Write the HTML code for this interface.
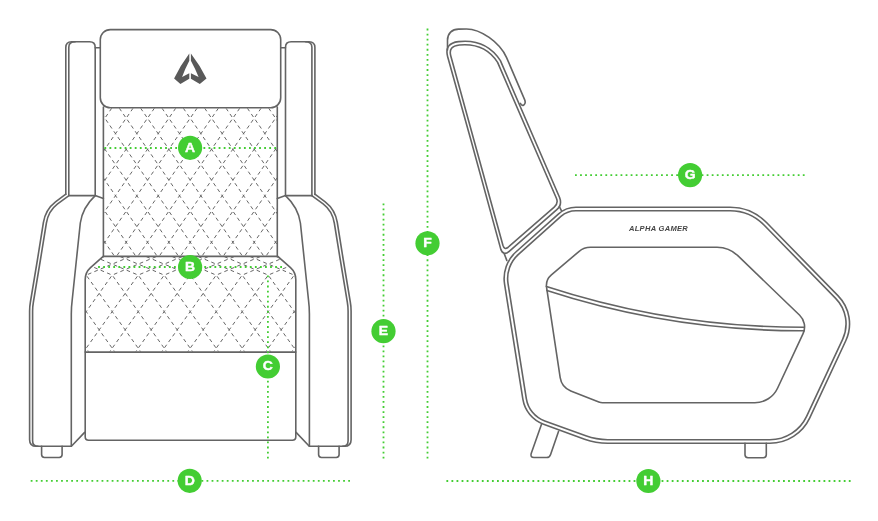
<!DOCTYPE html>
<html lang="en">
<head>
<meta charset="utf-8">
<title>Alpha Gamer sofa dimensions</title>
<style>
html,body{margin:0;padding:0;background:#fff;}
body{width:878px;height:521px;overflow:hidden;font-family:"Liberation Sans",sans-serif;}
svg{display:block;}
.ln{fill:none;stroke:#646464;stroke-width:1.6;stroke-linecap:round;stroke-linejoin:round;}
.q{fill:none;stroke:#5e5e5e;stroke-width:0.95;stroke-dasharray:3.7 3.3;}
.dot{fill:none;stroke:#43cd33;stroke-width:1.8;stroke-dasharray:1.8 3.26;}
.bd text{font-family:"Liberation Sans",sans-serif;font-weight:700;font-size:13.2px;fill:#fff;stroke:#fff;stroke-width:0.4;stroke-linejoin:round;}
.brand{font-family:"Liberation Sans",sans-serif;font-style:italic;font-weight:700;font-size:6.3px;fill:#444;letter-spacing:0.25px;}
</style>
</head>
<body>
<svg width="878" height="521" viewBox="0 0 878 521">
<defs>
<clipPath id="cb"><rect x="103.9" y="108.3" width="173.2" height="147.5"/></clipPath>
<clipPath id="cs"><path d="M103.2,257 L90.8,268 Q85.8,272.6 85.8,279.5 L85.8,351.6 L295.2,351.6 L295.2,279.5 Q295.2,272.6 290.2,268 L277.8,257 Z"/></clipPath>
</defs>
<rect width="878" height="521" fill="#fff"/>

<!-- ===== FRONT VIEW ===== -->
<g class="q" clip-path="url(#cb)">
<line x1="-8.74" y1="108.2" x2="97.13" y2="262.0"/>
<line x1="5.02" y1="108.2" x2="-100.85" y2="262.0"/>
<line x1="12.60" y1="108.2" x2="118.47" y2="262.0"/>
<line x1="26.36" y1="108.2" x2="-79.51" y2="262.0"/>
<line x1="33.94" y1="108.2" x2="139.81" y2="262.0"/>
<line x1="47.70" y1="108.2" x2="-58.17" y2="262.0"/>
<line x1="55.28" y1="108.2" x2="161.15" y2="262.0"/>
<line x1="69.04" y1="108.2" x2="-36.83" y2="262.0"/>
<line x1="76.62" y1="108.2" x2="182.49" y2="262.0"/>
<line x1="90.38" y1="108.2" x2="-15.49" y2="262.0"/>
<line x1="97.96" y1="108.2" x2="203.83" y2="262.0"/>
<line x1="111.72" y1="108.2" x2="5.85" y2="262.0"/>
<line x1="119.30" y1="108.2" x2="225.17" y2="262.0"/>
<line x1="133.06" y1="108.2" x2="27.19" y2="262.0"/>
<line x1="140.64" y1="108.2" x2="246.51" y2="262.0"/>
<line x1="154.40" y1="108.2" x2="48.53" y2="262.0"/>
<line x1="161.98" y1="108.2" x2="267.85" y2="262.0"/>
<line x1="175.74" y1="108.2" x2="69.87" y2="262.0"/>
<line x1="183.32" y1="108.2" x2="289.19" y2="262.0"/>
<line x1="197.08" y1="108.2" x2="91.21" y2="262.0"/>
<line x1="204.66" y1="108.2" x2="310.53" y2="262.0"/>
<line x1="218.42" y1="108.2" x2="112.55" y2="262.0"/>
<line x1="226.00" y1="108.2" x2="331.87" y2="262.0"/>
<line x1="239.76" y1="108.2" x2="133.89" y2="262.0"/>
<line x1="247.34" y1="108.2" x2="353.21" y2="262.0"/>
<line x1="261.10" y1="108.2" x2="155.23" y2="262.0"/>
<line x1="268.68" y1="108.2" x2="374.55" y2="262.0"/>
<line x1="282.44" y1="108.2" x2="176.57" y2="262.0"/>
<line x1="290.02" y1="108.2" x2="395.89" y2="262.0"/>
<line x1="303.78" y1="108.2" x2="197.91" y2="262.0"/>
<line x1="311.36" y1="108.2" x2="417.23" y2="262.0"/>
<line x1="325.12" y1="108.2" x2="219.25" y2="262.0"/>
<line x1="332.70" y1="108.2" x2="438.57" y2="262.0"/>
<line x1="346.46" y1="108.2" x2="240.59" y2="262.0"/>
<line x1="354.04" y1="108.2" x2="459.91" y2="262.0"/>
<line x1="367.80" y1="108.2" x2="261.93" y2="262.0"/>
<line x1="375.38" y1="108.2" x2="481.25" y2="262.0"/>
<line x1="389.14" y1="108.2" x2="283.27" y2="262.0"/>
</g>
<g class="q" clip-path="url(#cs)" stroke-dashoffset="6.25">
<polyline points="-88.34,256.40 -82.80,258.70 -69.80,264.10 -56.80,269.60 -43.80,275.10 -30.80,293.35 -17.80,311.60 -4.80,329.90 8.20,348.20 21.20,366.50"/>
<polyline points="52.74,256.40 47.20,258.70 34.20,264.10 21.20,269.60 8.20,275.10 -4.80,293.35 -17.80,311.60 -30.80,329.90 -43.80,348.20 -56.80,366.50"/>
<polyline points="-62.34,256.40 -56.80,258.70 -43.80,264.10 -30.80,269.60 -17.80,275.10 -4.80,293.35 8.20,311.60 21.20,329.90 34.20,348.20 47.20,366.50"/>
<polyline points="78.74,256.40 73.20,258.70 60.20,264.10 47.20,269.60 34.20,275.10 21.20,293.35 8.20,311.60 -4.80,329.90 -17.80,348.20 -30.80,366.50"/>
<polyline points="-36.34,256.40 -30.80,258.70 -17.80,264.10 -4.80,269.60 8.20,275.10 21.20,293.35 34.20,311.60 47.20,329.90 60.20,348.20 73.20,366.50"/>
<polyline points="104.74,256.40 99.20,258.70 86.20,264.10 73.20,269.60 60.20,275.10 47.20,293.35 34.20,311.60 21.20,329.90 8.20,348.20 -4.80,366.50"/>
<polyline points="-10.34,256.40 -4.80,258.70 8.20,264.10 21.20,269.60 34.20,275.10 47.20,293.35 60.20,311.60 73.20,329.90 86.20,348.20 99.20,366.50"/>
<polyline points="130.74,256.40 125.20,258.70 112.20,264.10 99.20,269.60 86.20,275.10 73.20,293.35 60.20,311.60 47.20,329.90 34.20,348.20 21.20,366.50"/>
<polyline points="15.66,256.40 21.20,258.70 34.20,264.10 47.20,269.60 60.20,275.10 73.20,293.35 86.20,311.60 99.20,329.90 112.20,348.20 125.20,366.50"/>
<polyline points="156.74,256.40 151.20,258.70 138.20,264.10 125.20,269.60 112.20,275.10 99.20,293.35 86.20,311.60 73.20,329.90 60.20,348.20 47.20,366.50"/>
<polyline points="41.66,256.40 47.20,258.70 60.20,264.10 73.20,269.60 86.20,275.10 99.20,293.35 112.20,311.60 125.20,329.90 138.20,348.20 151.20,366.50"/>
<polyline points="182.74,256.40 177.20,258.70 164.20,264.10 151.20,269.60 138.20,275.10 125.20,293.35 112.20,311.60 99.20,329.90 86.20,348.20 73.20,366.50"/>
<polyline points="67.66,256.40 73.20,258.70 86.20,264.10 99.20,269.60 112.20,275.10 125.20,293.35 138.20,311.60 151.20,329.90 164.20,348.20 177.20,366.50"/>
<polyline points="208.74,256.40 203.20,258.70 190.20,264.10 177.20,269.60 164.20,275.10 151.20,293.35 138.20,311.60 125.20,329.90 112.20,348.20 99.20,366.50"/>
<polyline points="93.66,256.40 99.20,258.70 112.20,264.10 125.20,269.60 138.20,275.10 151.20,293.35 164.20,311.60 177.20,329.90 190.20,348.20 203.20,366.50"/>
<polyline points="234.74,256.40 229.20,258.70 216.20,264.10 203.20,269.60 190.20,275.10 177.20,293.35 164.20,311.60 151.20,329.90 138.20,348.20 125.20,366.50"/>
<polyline points="119.66,256.40 125.20,258.70 138.20,264.10 151.20,269.60 164.20,275.10 177.20,293.35 190.20,311.60 203.20,329.90 216.20,348.20 229.20,366.50"/>
<polyline points="260.74,256.40 255.20,258.70 242.20,264.10 229.20,269.60 216.20,275.10 203.20,293.35 190.20,311.60 177.20,329.90 164.20,348.20 151.20,366.50"/>
<polyline points="145.66,256.40 151.20,258.70 164.20,264.10 177.20,269.60 190.20,275.10 203.20,293.35 216.20,311.60 229.20,329.90 242.20,348.20 255.20,366.50"/>
<polyline points="286.74,256.40 281.20,258.70 268.20,264.10 255.20,269.60 242.20,275.10 229.20,293.35 216.20,311.60 203.20,329.90 190.20,348.20 177.20,366.50"/>
<polyline points="171.66,256.40 177.20,258.70 190.20,264.10 203.20,269.60 216.20,275.10 229.20,293.35 242.20,311.60 255.20,329.90 268.20,348.20 281.20,366.50"/>
<polyline points="312.74,256.40 307.20,258.70 294.20,264.10 281.20,269.60 268.20,275.10 255.20,293.35 242.20,311.60 229.20,329.90 216.20,348.20 203.20,366.50"/>
<polyline points="197.66,256.40 203.20,258.70 216.20,264.10 229.20,269.60 242.20,275.10 255.20,293.35 268.20,311.60 281.20,329.90 294.20,348.20 307.20,366.50"/>
<polyline points="338.74,256.40 333.20,258.70 320.20,264.10 307.20,269.60 294.20,275.10 281.20,293.35 268.20,311.60 255.20,329.90 242.20,348.20 229.20,366.50"/>
<polyline points="223.66,256.40 229.20,258.70 242.20,264.10 255.20,269.60 268.20,275.10 281.20,293.35 294.20,311.60 307.20,329.90 320.20,348.20 333.20,366.50"/>
<polyline points="364.74,256.40 359.20,258.70 346.20,264.10 333.20,269.60 320.20,275.10 307.20,293.35 294.20,311.60 281.20,329.90 268.20,348.20 255.20,366.50"/>
<polyline points="249.66,256.40 255.20,258.70 268.20,264.10 281.20,269.60 294.20,275.10 307.20,293.35 320.20,311.60 333.20,329.90 346.20,348.20 359.20,366.50"/>
<polyline points="390.74,256.40 385.20,258.70 372.20,264.10 359.20,269.60 346.20,275.10 333.20,293.35 320.20,311.60 307.20,329.90 294.20,348.20 281.20,366.50"/>
<polyline points="275.66,256.40 281.20,258.70 294.20,264.10 307.20,269.60 320.20,275.10 333.20,293.35 346.20,311.60 359.20,329.90 372.20,348.20 385.20,366.50"/>
<polyline points="416.74,256.40 411.20,258.70 398.20,264.10 385.20,269.60 372.20,275.10 359.20,293.35 346.20,311.60 333.20,329.90 320.20,348.20 307.20,366.50"/>
<polyline points="301.66,256.40 307.20,258.70 320.20,264.10 333.20,269.60 346.20,275.10 359.20,293.35 372.20,311.60 385.20,329.90 398.20,348.20 411.20,366.50"/>
<polyline points="442.74,256.40 437.20,258.70 424.20,264.10 411.20,269.60 398.20,275.10 385.20,293.35 372.20,311.60 359.20,329.90 346.20,348.20 333.20,366.50"/>
<polyline points="327.66,256.40 333.20,258.70 346.20,264.10 359.20,269.60 372.20,275.10 385.20,293.35 398.20,311.60 411.20,329.90 424.20,348.20 437.20,366.50"/>
<polyline points="468.74,256.40 463.20,258.70 450.20,264.10 437.20,269.60 424.20,275.10 411.20,293.35 398.20,311.60 385.20,329.90 372.20,348.20 359.20,366.50"/>
</g>
<g class="ln">

<!-- wing -->
<path d="M65.8,194.4 L65.8,47.6 Q65.8,41.8 71.6,41.8 L89.6,41.8 Q95.2,41.8 95.2,47.4 L95.2,195.6"/>
<path d="M68.8,195.6 L68.8,47.2 C68.8,43.9 71,41.8 75.2,41.8"/>
<path d="M68.8,195.6 L95.2,195.6 L103.4,198.4"/>
<path d="M95.2,47.8 L100.3,47.8"/>
<!-- armrest outer (double) -->
<path d="M65.8,194.2 L55.5,201.8 Q45.5,209.5 43.4,222.5 L37.4,260 L30.4,302 Q29.6,306.5 29.6,311 L29.6,439.7 Q29.6,446.3 36.2,446.3 L71.4,446.3 L84.6,432.4"/>
<path d="M68.6,195.8 L57.6,203.8 Q48.4,210.8 46.4,223 L40.4,260 L33.4,302 Q32.6,306.5 32.6,311 L32.6,440.8 Q32.6,446.3 38,446.3"/>
<!-- armrest inner edge -->
<path d="M95.2,195.6 Q82.5,207.5 80.3,223 L76.4,260 L72.2,300 Q71.3,307 71.3,314 L71.3,446.2"/>
<!-- foot -->
<path d="M41.6,446.3 L41.6,454.6 Q41.6,457.5 44.5,457.5 L59.2,457.5 Q62.1,457.5 62.1,454.6 L62.1,446.3"/>
<!-- backrest side -->
<path d="M103.4,107 L103.4,256.3"/>

<g transform="translate(380.7,0) scale(-1,1)">

<!-- wing -->
<path d="M65.8,194.4 L65.8,47.6 Q65.8,41.8 71.6,41.8 L89.6,41.8 Q95.2,41.8 95.2,47.4 L95.2,195.6"/>
<path d="M68.8,195.6 L68.8,47.2 C68.8,43.9 71,41.8 75.2,41.8"/>
<path d="M68.8,195.6 L95.2,195.6 L103.4,198.4"/>
<path d="M95.2,47.8 L100.3,47.8"/>
<!-- armrest outer (double) -->
<path d="M65.8,194.2 L55.5,201.8 Q45.5,209.5 43.4,222.5 L37.4,260 L30.4,302 Q29.6,306.5 29.6,311 L29.6,439.7 Q29.6,446.3 36.2,446.3 L71.4,446.3 L84.6,432.4"/>
<path d="M68.6,195.8 L57.6,203.8 Q48.4,210.8 46.4,223 L40.4,260 L33.4,302 Q32.6,306.5 32.6,311 L32.6,440.8 Q32.6,446.3 38,446.3"/>
<!-- armrest inner edge -->
<path d="M95.2,195.6 Q82.5,207.5 80.3,223 L76.4,260 L72.2,300 Q71.3,307 71.3,314 L71.3,446.2"/>
<!-- foot -->
<path d="M41.6,446.3 L41.6,454.6 Q41.6,457.5 44.5,457.5 L59.2,457.5 Q62.1,457.5 62.1,454.6 L62.1,446.3"/>
<!-- backrest side -->
<path d="M103.4,107 L103.4,256.3"/>

</g>
<!-- seat + lower panel (full width) -->
<path d="M103.2,256.4 L90.5,267.6 Q85.2,272.4 85.2,279.5 L85.2,436.8 Q85.2,440.3 88.7,440.3 L292.3,440.3 Q295.8,440.3 295.8,436.8 L295.8,279.5 Q295.8,272.4 290.5,267.6 L277.8,256.4 Z"/>
<path d="M85.2,352.1 L295.8,352.1"/>
<!-- headrest -->
<rect x="100.3" y="29.6" width="180.4" height="78.2" rx="10" ry="10" fill="#fff"/>
</g>
<!-- logo -->
<g fill="#595959">
<path d="M189.3,53.4 Q180.4,65.2 174.1,78.4 L180.4,83.9 L189.3,78.8 L189.3,73.3 L182.1,77 Q185.2,68.6 189.3,60.8 Z"/>
<path d="M190.9,53.4 Q200,65.2 206.5,78.4 L199.8,83.9 L190.9,78.8 L190.9,73.3 L198.6,77.1 Q195.2,68.6 190.9,60.8 Z"/>
</g>

<!-- ===== SIDE VIEW ===== -->
<g class="ln">
<!-- head pillow -->
<path d="M447.5,50 L447.5,40.2 C447.5,33.6 452,29.1 458.6,29.1 L466.5,29 C480.5,29 499.5,42 506.6,57.6 L524.6,99.6 Q526.2,103.6 523.6,105.2 Q521.6,106 520.4,103.4"/>
<!-- backrest outer -->
<path d="M470.9,140 L447.6,56.5 Q444.2,43.2 458.5,41.6 Q486,38.5 500.4,60.6 L559.6,197.5 Q562.4,204.8 556.8,209.7 L509.2,251.3 Q503.4,256.2 500.9,249.6 L470.9,140"/>
<!-- backrest inner -->
<path d="M473.9,140 L450.8,56 Q448,46.2 459.5,45 Q485,42.6 497.6,62.4 L556.4,198.3 Q558.6,203.4 554.2,207.2 L507.9,247.5 Q504.4,250.2 502.9,245.3 L473.9,140"/>
<!-- ticks -->
<path d="M559.4,206.6 L561.4,210.6"/>
<path d="M504.2,253.6 L506.8,260.4"/>
<!-- arm outer -->
<path d="M558.60,213.81 A26.00,26.00 0 0 1 575.92,207.20 L730.03,207.20 A51.00,51.00 0 0 1 766.51,222.56 L838.15,295.89 A40.00,40.00 0 0 1 845.77,340.78 L809.76,417.83 A44.00,44.00 0 0 1 769.90,443.20 L607.73,443.20 A68.00,68.00 0 0 1 584.58,439.14 L543.57,424.29 A32.00,32.00 0 0 1 522.86,399.23 L504.57,284.23 A36.00,36.00 0 0 1 516.14,251.73 Z"/>
<!-- arm inner -->
<path d="M560.93,216.42 A22.50,22.50 0 0 1 575.92,210.70 L730.03,210.70 A47.50,47.50 0 0 1 764.00,225.01 L835.65,298.34 A36.50,36.50 0 0 1 842.60,339.30 L806.59,416.35 A40.50,40.50 0 0 1 769.90,439.70 L607.73,439.70 A64.50,64.50 0 0 1 585.77,435.85 L544.77,421.00 A28.50,28.50 0 0 1 526.32,398.68 L508.03,283.68 A32.50,32.50 0 0 1 518.47,254.34 Z"/>
<!-- inner panel -->
<path d="M578.86,251.58 A18.00,18.00 0 0 1 590.51,247.30 L717.00,247.30 A30.00,30.00 0 0 1 737.81,255.69 L799.67,315.27 A16.00,16.00 0 0 1 803.07,333.56 L777.53,388.27 A25.00,25.00 0 0 1 754.88,402.70 L602.49,402.70 A10.00,10.00 0 0 1 598.84,402.01 L570.79,391.02 A17.00,17.00 0 0 1 560.19,377.73 L546.60,287.66 A14.00,14.00 0 0 1 551.39,274.90 Z"/>
<!-- seat cushion double line -->
<path d="M546.4,286.4 Q672,327.4 804.2,327.3"/>
<path d="M546.9,290.5 Q672,331.3 804.1,330.7"/>
<!-- back leg -->
<path d="M541.6,424 L531.2,453.6 Q530,457.5 534,457.5 L546.6,457.5 Q549.6,457.5 550.6,454.4 L558.6,431.2"/>
<!-- front foot -->
<path d="M745,443.4 L745,454.8 Q745,457.7 748,457.7 L763.4,457.7 Q766.3,457.7 766.3,454.8 L766.3,443.4"/>
</g>
<g style="filter:grayscale(1)"><text class="brand" x="628.9" y="231.2" textLength="59.2" lengthAdjust="spacingAndGlyphs">ALPHA GAMER</text></g>

<!-- ===== DIMENSION LINES ===== -->
<g class="dot">
<line x1="104.40" y1="148" x2="190.1" y2="148"/><line x1="276.10" y1="148" x2="190.1" y2="148"/>
<line x1="98.10" y1="267" x2="190.1" y2="267"/><line x1="282.00" y1="267" x2="190.1" y2="267"/>
<line x1="267.9" y1="275.50" x2="267.9" y2="366.5"/><line x1="267.9" y1="458.50" x2="267.9" y2="366.5"/>
<line x1="30.70" y1="480.9" x2="189.7" y2="480.9"/><line x1="350.00" y1="480.9" x2="189.7" y2="480.9"/>
<line x1="383.5" y1="203.50" x2="383.5" y2="331.2"/><line x1="383.5" y1="458.50" x2="383.5" y2="331.2"/>
<line x1="427.5" y1="28.60" x2="427.5" y2="243.3"/><line x1="427.5" y1="458.50" x2="427.5" y2="243.3"/>
<line x1="575.00" y1="175.1" x2="690.1" y2="175.1"/><line x1="804.60" y1="175.1" x2="690.1" y2="175.1"/>
<line x1="446.40" y1="481" x2="648.4" y2="481"/><line x1="850.60" y1="481" x2="648.4" y2="481"/>
</g>
<g class="bd" opacity="0.999">
<circle cx="190.1" cy="147.8" r="12.1" fill="#43cd33"/><text transform="translate(190.1,151.50) scale(1.06,1)" text-anchor="middle">A</text>
<circle cx="190.1" cy="267" r="12.1" fill="#43cd33"/><text transform="translate(190.1,270.70) scale(1.06,1)" text-anchor="middle">B</text>
<circle cx="267.9" cy="366.5" r="12.1" fill="#43cd33"/><text transform="translate(267.9,370.20) scale(1.06,1)" text-anchor="middle">C</text>
<circle cx="189.7" cy="480.8" r="12.1" fill="#43cd33"/><text transform="translate(189.7,484.50) scale(1.06,1)" text-anchor="middle">D</text>
<circle cx="383.5" cy="331.2" r="12.1" fill="#43cd33"/><text transform="translate(383.5,334.90) scale(1.06,1)" text-anchor="middle">E</text>
<circle cx="427.5" cy="243.3" r="12.1" fill="#43cd33"/><text transform="translate(427.5,247.00) scale(1.06,1)" text-anchor="middle">F</text>
<circle cx="690.1" cy="175.1" r="12.1" fill="#43cd33"/><text transform="translate(690.1,178.80) scale(1.06,1)" text-anchor="middle">G</text>
<circle cx="648.4" cy="481" r="12.1" fill="#43cd33"/><text transform="translate(648.4,484.70) scale(1.06,1)" text-anchor="middle">H</text>
</g>
</svg>
</body>
</html>
